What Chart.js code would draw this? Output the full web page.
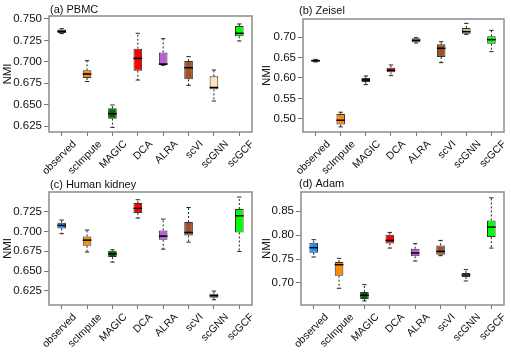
<!DOCTYPE html>
<html>
<head>
<meta charset="utf-8">
<script src="https://cdn.jsdelivr.net/npm/chart.js@4.4.0/dist/chart.umd.min.js"></script>
<style>
  body { margin: 0; background: #fff; width: 511px; height: 353px; overflow: hidden; position: relative; }
  canvas { position: absolute; }
</style>
</head>
<body>
<canvas id="chartA" width="255" height="180" style="left:0;top:0"></canvas>
<canvas id="chartB" width="256" height="180" style="left:255px;top:0"></canvas>
<canvas id="chartC" width="255" height="181" style="left:0;top:172px"></canvas>
<canvas id="chartD" width="256" height="181" style="left:255px;top:172px"></canvas>
<script>
var methods = ['observed', 'scImpute', 'MAGIC', 'DCA', 'ALRA', 'scVI', 'scGNN', 'scGCF'];

// (a) PBMC
var pbmcMin = [0.7329, 0.677, 0.6234, 0.6787, 0.6959, 0.6725, 0.6542, 0.7243];
var pbmcQ1  = [0.7335, 0.681, 0.6336, 0.6896, 0.6963, 0.6795, 0.6678, 0.7298];
var pbmcMed = [0.7356, 0.6857, 0.6394, 0.704, 0.6974, 0.6931, 0.670, 0.7333];
var pbmcQ3  = [0.7378, 0.690, 0.6456, 0.7153, 0.711, 0.7009, 0.683, 0.7418];
var pbmcMax = [0.7387, 0.7013, 0.6495, 0.7333, 0.727, 0.706, 0.6904, 0.7442];
var pbmcTicks = [0.625, 0.650, 0.675, 0.700, 0.725, 0.750];

// (b) Zeisel
var zeiselMin = [0.639, 0.4805, 0.5837, 0.6057, 0.6854, 0.6374, 0.7065, 0.6642];
var zeiselQ1  = [0.6398, 0.4862, 0.5902, 0.6138, 0.687, 0.6512, 0.708, 0.6837];
var zeiselMed = [0.6423, 0.4967, 0.595, 0.6187, 0.6919, 0.6724, 0.713, 0.6935];
var zeiselQ3  = [0.6447, 0.5122, 0.600, 0.6252, 0.6967, 0.6821, 0.722, 0.7016];
var zeiselMax = [0.6455, 0.5163, 0.6049, 0.6317, 0.6984, 0.6886, 0.7333, 0.7163];
var zeiselTicks = [0.50, 0.55, 0.60, 0.65, 0.70];

// (c) Human kidney
var kidneyMin = [0.6972, 0.674, 0.6613, 0.717, 0.6777, 0.6866, 0.6136, 0.6748];
var kidneyQ1  = [0.7039, 0.682, 0.6676, 0.7233, 0.6896, 0.695, 0.6161, 0.6988];
var kidneyMed = [0.7077, 0.6891, 0.6718, 0.7292, 0.6942, 0.6988, 0.6187, 0.7199];
var kidneyQ3  = [0.7111, 0.6938, 0.6756, 0.736, 0.7014, 0.712, 0.6212, 0.7284];
var kidneyMax = [0.7145, 0.7018, 0.6769, 0.7402, 0.7157, 0.7304, 0.6246, 0.7436];
var kidneyTicks = [0.625, 0.650, 0.675, 0.700, 0.725];

// (d) Adam
var adamMin = [0.7542, 0.6889, 0.6625, 0.7729, 0.7458, 0.757, 0.7042, 0.7729];
var adamQ1  = [0.7633, 0.7153, 0.6667, 0.7826, 0.7556, 0.759, 0.7125, 0.7958];
var adamMed = [0.7738, 0.7382, 0.6743, 0.7889, 0.7625, 0.766, 0.7167, 0.8167];
var adamQ3  = [0.7842, 0.7437, 0.6813, 0.8007, 0.7715, 0.7785, 0.7208, 0.8306];
var adamMax = [0.7904, 0.7514, 0.6965, 0.8056, 0.782, 0.7889, 0.7278, 0.8778];
var adamTicks = [0.70, 0.75, 0.80, 0.85];

var fontFam = "'Liberation Sans', Arial, sans-serif";

function boxColors(gnnColor) {
  return ['#1E90FF', '#FF8C00', '#006400', '#FF0000', '#BF5FD8', '#A0522D', gnnColor, '#00FF00'];
}

// draws whiskers, caps, medians, the frame and the panel title
var boxParts = {
  id: 'boxParts',
  afterDatasetsDraw: function(chart, args, opts) {
    var ds = chart.data.datasets[0];
    var st = ds.stats;
    var meta = chart.getDatasetMeta(0);
    var y = chart.scales.y;
    var ctx = chart.ctx;
    ctx.save();
    meta.data.forEach(function(bar, i) {
      var x = bar.x, w = bar.width;
      var pMin = y.getPixelForValue(st.min[i]);
      var pQ1 = y.getPixelForValue(st.q1[i]);
      var pMed = y.getPixelForValue(st.med[i]);
      var pQ3 = y.getPixelForValue(st.q3[i]);
      var pMax = y.getPixelForValue(st.max[i]);
      ctx.strokeStyle = '#222';
      ctx.lineWidth = 1;
      ctx.setLineDash([2, 2]);
      ctx.beginPath();
      ctx.moveTo(x, pQ3); ctx.lineTo(x, pMax);
      ctx.moveTo(x, pQ1); ctx.lineTo(x, pMin);
      ctx.stroke();
      ctx.setLineDash([]);
      ctx.beginPath();
      ctx.moveTo(x - w / 4, pMax); ctx.lineTo(x + w / 4, pMax);
      ctx.moveTo(x - w / 4, pMin); ctx.lineTo(x + w / 4, pMin);
      ctx.stroke();
      ctx.lineWidth = 1.5;
      ctx.strokeStyle = '#000';
      ctx.beginPath();
      ctx.moveTo(x - w / 2, pMed); ctx.lineTo(x + w / 2, pMed);
      ctx.stroke();
    });
    var a = chart.chartArea;
    ctx.strokeStyle = '#8c8c8c';
    ctx.lineWidth = 1.5;
    ctx.strokeRect(a.left, a.top, a.right - a.left, a.bottom - a.top);
    ctx.fillStyle = '#111';
    ctx.font = '11px ' + fontFam;
    ctx.textAlign = 'left';
    ctx.textBaseline = 'alphabetic';
    ctx.fillText(opts.title, a.left + opts.titleDx, a.top - opts.titleGap);
    ctx.restore();
  }
};

function makePanel(id, p) {
  var ctx = document.getElementById(id).getContext('2d');
  return new Chart(ctx, {
    type: 'bar',
    data: {
      labels: methods,
      datasets: [{
        data: p.q1.map(function(v, i) { return [v, p.q3[i]]; }),
        stats: { min: p.min, q1: p.q1, med: p.med, q3: p.q3, max: p.max },
        backgroundColor: p.colors,
        borderColor: '#333',
        borderWidth: 1,
        borderSkipped: false,
        barPercentage: 0.34,
        categoryPercentage: 1
      }]
    },
    options: {
      responsive: false,
      animation: false,
      layout: { padding: { top: p.padTop, right: p.padRight, left: 0, bottom: 0 } },
      plugins: {
        legend: { display: false },
        tooltip: { enabled: false },
        boxParts: { title: p.title, titleDx: p.titleDx, titleGap: p.titleGap }
      },
      scales: {
        x: {
          offset: true,
          grid: { drawOnChartArea: false, drawTicks: true, tickLength: 4, offset: false, color: '#777' },
          border: { display: false },
          ticks: {
            autoSkip: false, maxRotation: 45, minRotation: 45, labelOffset: 13, padding: 2,
            color: '#111', font: { family: fontFam, size: 10.5 }
          },
          afterFit: function(s) { s.height = p.xHeight; }
        },
        y: {
          min: p.yMin,
          max: p.yMax,
          afterBuildTicks: function(s) { s.ticks = p.ticks.map(function(v) { return { value: v }; }); },
          grid: { drawOnChartArea: false, drawTicks: true, tickLength: 5, color: '#777' },
          border: { display: false },
          ticks: {
            padding: 2, color: '#111', font: { family: fontFam, size: 11.5 },
            callback: function(v) { return v.toFixed(p.dec); }
          },
          title: { display: true, text: 'NMI', color: '#111', font: { family: fontFam, size: 11.5 }, padding: { top: p.nmiPad, bottom: 0 } },
          afterFit: function(s) { s.width = p.yWidth; }
        }
      }
    },
    plugins: [boxParts]
  });
}

makePanel('chartA', {
  title: '(a) PBMC', titleDx: 1, titleGap: 3,
  min: pbmcMin, q1: pbmcQ1, med: pbmcMed, q3: pbmcQ3, max: pbmcMax,
  ticks: pbmcTicks, dec: 3, yMin: 0.618, yMax: 0.7535,
  colors: boxColors('#FFE4C4'),
  padTop: 16, padRight: 3, xHeight: 48, yWidth: 49, nmiPad: 1
});
makePanel('chartB', {
  title: '(b) Zeisel', titleDx: -4, titleGap: 5,
  min: zeiselMin, q1: zeiselQ1, med: zeiselMed, q3: zeiselQ3, max: zeiselMax,
  ticks: zeiselTicks, dec: 2, yMin: 0.468, yMax: 0.744,
  colors: boxColors('#D2B48C'),
  padTop: 19, padRight: 7, xHeight: 48, yWidth: 48, nmiPad: 5
});
makePanel('chartC', {
  title: '(c) Human kidney', titleDx: 1, titleGap: 4,
  min: kidneyMin, q1: kidneyQ1, med: kidneyMed, q3: kidneyQ3, max: kidneyMax,
  ticks: kidneyTicks, dec: 3, yMin: 0.607, yMax: 0.750,
  colors: boxColors('#8B7D6B'),
  padTop: 20, padRight: 3, xHeight: 48, yWidth: 49, nmiPad: 1
});
makePanel('chartD', {
  title: '(d) Adam', titleDx: -2, titleGap: 5,
  min: adamMin, q1: adamQ1, med: adamMed, q3: adamQ3, max: adamMax,
  ticks: adamTicks, dec: 2, yMin: 0.654, yMax: 0.890,
  colors: boxColors('#C8B49A'),
  padTop: 20, padRight: 7, xHeight: 48, yWidth: 46, nmiPad: 5
});
</script>
</body>
</html>
